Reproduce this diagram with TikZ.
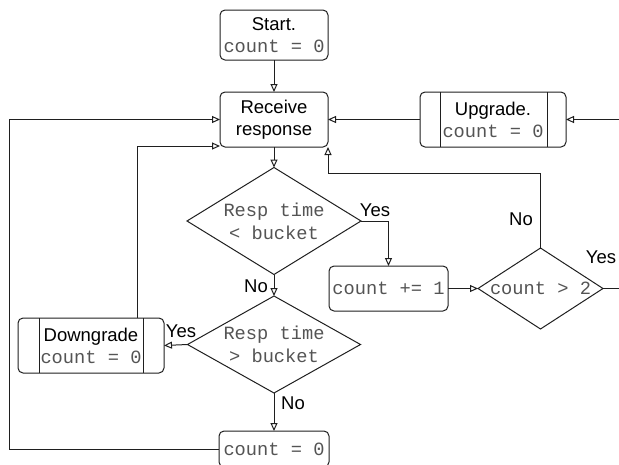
\documentclass[tikz,border=0pt]{standalone}
\usepackage{fontspec}
\setmainfont{Liberation Sans}
\setmonofont{Liberation Mono}
\usetikzlibrary{shapes.geometric,arrows.meta}
\definecolor{codegray}{rgb}{0.33,0.33,0.33}
\definecolor{linegray}{rgb}{0.12,0.12,0.12}
\newcommand\txtsans[1]{{\fontsize{18.5}{22}\selectfont\color{black}#1}}
\newcommand\txtmono[1]{{\fontsize{18.7}{22}\selectfont\ttfamily\color{codegray}#1}}
\begin{document}
\begin{tikzpicture}[x=1pt,y=-1pt,
  every node/.style={inner sep=0pt, outer sep=0pt},
  proc/.style={draw=linegray, line width=1pt, rounded corners=5pt, rectangle, align=center,
    font=\fontsize{18.5}{22}\selectfont},
  decision/.style={draw=linegray, line width=1pt, diamond},
  dtext/.style={align=center, font=\fontsize{18.7}{23}\selectfont},
  lbl/.style={font=\fontsize{18.5}{22}\selectfont},
  flow/.style={draw=linegray, line width=1pt, -{Triangle[open,length=8pt,width=7pt]}},
  link/.style={draw=linegray, line width=1pt},
]
\useasboundingbox (0,0) rectangle (619,464);
\clip (0,0) rectangle (619,464);

% process boxes
\node[proc, minimum width=108pt, minimum height=50pt] (start) at (274,35)
  {\txtsans{Start.}\\\txtmono{count = 0}};
\node[proc, minimum width=108pt, minimum height=55pt] (recv) at (274,119.5)
  {\txtsans{Receive}\\\txtsans{response}};
\node[proc, minimum width=146pt, minimum height=55pt] (upg) at (493,119.5)
  {\txtsans{Upgrade.}\\\txtmono{count = 0}};
\node[proc, minimum width=119pt, minimum height=45pt] (inc) at (388.5,288.5)
  {\txtmono{count += 1}};
\node[proc, minimum width=146pt, minimum height=55pt] (down) at (91,345.5)
  {\txtsans{Downgrade}\\\txtmono{count = 0}};
\node[proc, minimum width=110pt, minimum height=36pt] (zero) at (274,449)
  {\txtmono{count = 0}};

% side bars of the predefined-process boxes
\draw[link] ([xshift=20pt]upg.north west) -- ([xshift=20pt]upg.south west);
\draw[link] ([xshift=-19pt]upg.north east) -- ([xshift=-19pt]upg.south east);
\draw[link] ([xshift=21pt]down.north west) -- ([xshift=21pt]down.south west);
\draw[link] ([xshift=-21pt]down.north east) -- ([xshift=-21pt]down.south east);

% decisions
\node[decision, minimum width=174pt, minimum height=107pt,
  label={[dtext]center:\txtmono{Resp time}\\\txtmono{< bucket}}] (d1) at (274,221) {};
\node[decision, minimum width=173pt, minimum height=97pt,
  label={[dtext]center:\txtmono{Resp time}\\\txtmono{> bucket}}] (d2) at (274,344.5) {};
\node[decision, minimum width=125pt, minimum height=81pt,
  label={[dtext]center:\txtmono{count > 2}}] (d3) at (540.5,288.5) {};

% free ends and bends
\coordinate (inR) at (619,119.5);
\coordinate (outR) at (619,288.5);
\coordinate (loopL) at (9,0);
\coordinate (recvlow) at (220,146);
\coordinate (downtop) at (137,318);

% connectors
\draw[flow] (start) -- (recv);
\draw[flow] (inR) -- (upg.east);
\draw[flow] (upg.west) -- (recv.east);
\draw[flow] (recv) -- (d1.north);
\draw[flow] (d1.east) -| (inc.north);
\draw[flow] (inc.east) -- (d3.west);
\draw[flow] (d3.north) |- ([yshift=-26pt]recv.south east) -- (recv.south east);
\draw[link] (d3.east) -- (outR);
\draw[flow] (d1.south) -- (d2.north);
\draw[flow] (d2.west) -- (down.east);
\draw[flow] (d2.south) -- (zero.north);
\draw[flow] (downtop) -- (downtop |- recvlow) -- (recvlow);
\draw[flow] (zero.west) -- (zero.west -| loopL) -- (recv.west -| loopL) -- (recv.west);

% branch labels
\node[lbl] (y1) at (375,210) {Yes};
\node[lbl] (n1) at (256,286) {No};
\node[lbl] (y2) at (181,331) {Yes};
\node[lbl] (n2) at (293,403) {No};
\node[lbl] (n3) at (521,219) {No};
\node[lbl] (y3) at (601,257) {Yes};
\end{tikzpicture}
\end{document}
